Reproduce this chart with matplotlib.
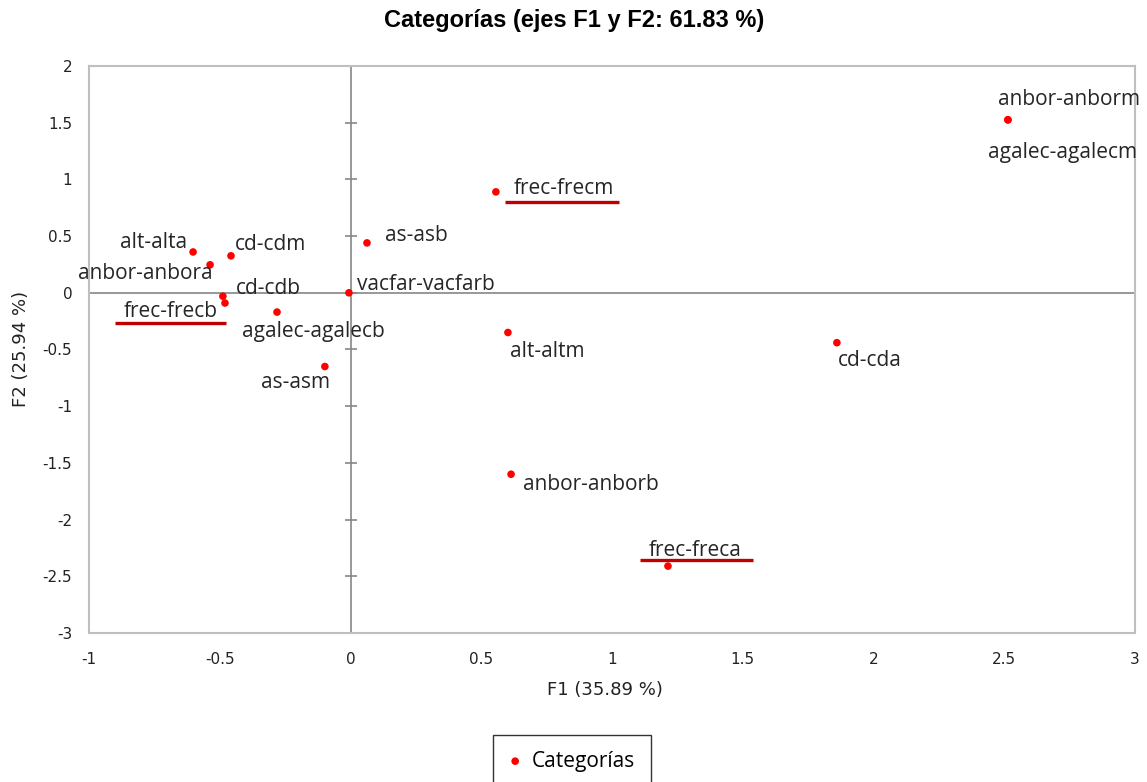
import matplotlib
matplotlib.use("Agg")
import matplotlib.pyplot as plt
from matplotlib.transforms import offset_copy

labels = ["alt-alta", "anbor-anbora", "cd-cdm", "cd-cdb", "frec-frecb",
          "agalec-agalecb", "as-asm", "vacfar-vacfarb", "as-asb", "frec-frecm",
          "alt-altm", "anbor-anborb", "frec-freca", "cd-cda",
          "anbor-anborm", "agalec-agalecm"]
f1 = [-0.602, -0.537, -0.457, -0.488, -0.480, -0.281, -0.098, -0.006, 0.063,
      0.556, 0.602, 0.614, 1.214, 1.860, 2.514, 2.514]
f2 = [0.360, 0.247, 0.326, -0.030, -0.090, -0.170, -0.650, 0.000, 0.440,
      0.890, -0.350, -1.600, -2.410, -0.440, 1.525, 1.525]
xticks = [-1, -0.5, 0, 0.5, 1, 1.5, 2, 2.5, 3]
yticks = [-3, -2.5, -2, -1.5, -1, -0.5, 0, 0.5, 1, 1.5, 2]

# label placement offsets in pixels (dx, dy up), horizontal alignment
place = {
    "alt-alta": (-6, 9, "right"),
    "anbor-anbora": (3, -9, "right"),
    "cd-cdm": (4, 11, "left"),
    "cd-cdb": (13, 8, "left"),
    "frec-frecb": (-7, -8, "right"),
    "agalec-agalecb": (-35, -19, "left"),
    "as-asm": (5, -16, "right"),
    "vacfar-vacfarb": (8, 8, "left"),
    "as-asb": (18, 7, "left"),
    "frec-frecm": (18, 3, "left"),
    "alt-altm": (2, -19, "left"),
    "anbor-anborb": (12, -10, "left"),
    "frec-freca": (27, 16, "center"),
    "cd-cda": (1, -18, "left"),
    "anbor-anborm": (-10, 20, "left"),
    "agalec-agalecm": (-20, -33, "left"),
}
# underline segments relative to point (x0, x1, dy) in pixels
ul = {
    "frec-frecb": (-110, 1, -20),
    "frec-frecm": (9, 123, -10),
    "frec-freca": (-28, 85, 6),
}

DPI = 100
fig = plt.figure(figsize=(11.47, 7.82), dpi=DPI)
ax = fig.add_axes([89/1147, 149/782, 1046/1147, 567/782])
ax.set_xlim(-1, 3)
ax.set_ylim(-3, 2)

for s in ax.spines.values():
    s.set_color("#bfbfbf")
    s.set_linewidth(1.5)

ax.axhline(0, color="#868686", lw=1.2, zorder=1)
ax.axvline(0, color="#868686", lw=1.2, zorder=1)
ax.plot([0]*len(yticks), yticks, ls="none", marker="_", ms=9, mew=1.2,
        color="#868686", zorder=1, clip_on=False)

ax.set_xticks(xticks)
ax.set_yticks(yticks)
ax.set_xticklabels([f"{t:g}" for t in xticks])
ax.set_yticklabels([f"{t:g}" for t in yticks])
ax.tick_params(length=0, labelsize=11, colors="#000000")
ax.tick_params(axis="x", pad=14)
ax.tick_params(axis="y", pad=12)
for lab in ax.get_xticklabels() + ax.get_yticklabels():
    lab.set_family("DejaVu Sans")
    lab.set_color("#222222")

sc = ax.scatter(f1, f2, s=30, color="#ff0000", zorder=3, label="Categorías",
                edgecolors="none")

px = 72 / DPI
lab_font = dict(family="Open Sans", fontsize=15, color="#262626")
for name, x, y in zip(labels, f1, f2):
    dx, dy, ha = place[name]
    ax.annotate(name, (x, y), xytext=(dx*px, dy*px), textcoords="offset points",
                ha=ha, va="center", annotation_clip=False, **lab_font)
    if name in ul:
        x0, x1, uy = ul[name]
        tr0 = offset_copy(ax.transData, fig=fig, x=x0*px, y=uy*px, units="points")
        tr1 = offset_copy(ax.transData, fig=fig, x=x1*px, y=uy*px, units="points")
        p0 = tr0.transform((x, y))
        p1 = tr1.transform((x, y))
        ax.plot([p0[0], p1[0]], [p0[1], p1[1]], transform=None, color="#c00000",
                lw=2.4, solid_capstyle="butt", zorder=2, clip_on=False)

fig.text(574/1147, 1 - 20/782, "Categorías (ejes F1 y F2: 61.83 %)",
         ha="center", va="center", fontsize=17, fontweight="bold",
         family="Liberation Sans", color="#000000")
fig.text(605/1147, 1 - 690/782, "F1 (35.89 %)", ha="center", va="center",
         fontsize=13, family="DejaVu Sans", color="#222222")
fig.text(21/1147, 1 - 349/782, "F2 (25.94 %)", ha="center", va="center",
         rotation=90, fontsize=13, family="DejaVu Sans", color="#222222")

leg = fig.legend(handles=[sc], loc="upper center",
                 bbox_to_anchor=(572/1147, 1 - 735/782),
                 frameon=True, fancybox=False, edgecolor="#000000",
                 prop=dict(family="Open Sans", size=15), handlelength=0.6,
                 handletextpad=0.5, borderpad=0.75, borderaxespad=0)
leg.get_frame().set_linewidth(1.0)
fig.savefig("out.png", dpi=DPI, facecolor="white")
